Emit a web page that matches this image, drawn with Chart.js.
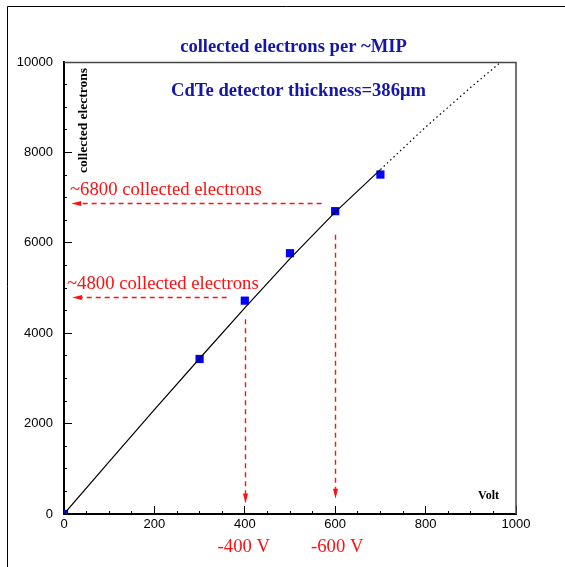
<!DOCTYPE html>
<html>
<head>
<meta charset="utf-8">
<script src="https://cdn.jsdelivr.net/npm/chart.js@4.4.1/dist/chart.umd.min.js"></script>
<style>
html, body { margin: 0; padding: 0; background: #fff; }
canvas { display: block; }
</style>
</head>
<body>
<canvas id="grafico" width="565" height="567"></canvas>
<script>
// Puntos medidos: tensión (V) y electrones recogidos
const voltios = [0, 300, 400, 500, 600, 700];
const electrones = [0, 3430, 4720, 5770, 6700, 7510];

// Curva de ajuste (continua hasta 700 V, punteada después)
const ajusteVoltios = [0, 100, 200, 300, 400, 500, 600, 700, 800, 900, 1000];
const ajusteElectrones = [0, 1160, 2310, 3440, 4560, 5650, 6680, 7620, 8560, 9440, 10280];
const finTramoSolido = 700;

// Flechas horizontales (nivel de electrones, desde V, hasta V)
const flechaNivel = [6880, 4790];
const flechaDesde = [570, 360];
const flechaHasta = [16, 18];
const flechaTexto = ['~6800 collected electrons', '~4800 collected electrons'];

// Flechas verticales (tensión, desde electrones, hasta electrones)
const tensionMarcada = [400, 600];
const tensionDesde = [4310, 6180];
const tensionHasta = [230, 340];
const tensionTexto = ['-400 V', '-600 V'];

const rojo = '#ff1010';
const azulTitulo = '#1616a4';
const serif = '"Liberation Serif", "Times New Roman", serif';
const sans = '"Liberation Sans", Arial, sans-serif';

function punta(ctx, x, y, dx, dy) {
  // triángulo estrecho apuntando en la dirección (dx, dy)
  const largo = 10, ancho = 2.5;
  const px = -dy, py = dx;
  ctx.beginPath();
  ctx.moveTo(x, y);
  ctx.lineTo(x - dx * largo + px * ancho, y - dy * largo + py * ancho);
  ctx.lineTo(x - dx * largo - px * ancho, y - dy * largo - py * ancho);
  ctx.closePath();
  ctx.fill();
}

const decoracion = {
  id: 'decoracion',
  afterDatasetsDraw(chart) {
    const ctx = chart.ctx;
    const sx = chart.scales.x, sy = chart.scales.y;
    ctx.save();
    ctx.strokeStyle = rojo;
    ctx.fillStyle = rojo;
    ctx.lineWidth = 1.4;
    ctx.setLineDash([5, 4]);
    for (let i = 0; i < flechaNivel.length; i++) {
      const y = Math.round(sy.getPixelForValue(flechaNivel[i])) + 0.5;
      const x0 = sx.getPixelForValue(flechaDesde[i]);
      const x1 = sx.getPixelForValue(flechaHasta[i]);
      ctx.beginPath();
      ctx.moveTo(x0, y);
      ctx.lineTo(x1 + 8, y);
      ctx.stroke();
    }
    for (let i = 0; i < tensionMarcada.length; i++) {
      const x = Math.round(sx.getPixelForValue(tensionMarcada[i])) + 0.5;
      const y0 = sy.getPixelForValue(tensionDesde[i]);
      const y1 = sy.getPixelForValue(tensionHasta[i]);
      ctx.beginPath();
      ctx.moveTo(x, y0);
      ctx.lineTo(x, y1 - 8);
      ctx.stroke();
    }
    ctx.setLineDash([]);
    for (let i = 0; i < flechaNivel.length; i++) {
      const y = Math.round(sy.getPixelForValue(flechaNivel[i])) + 0.5;
      punta(ctx, sx.getPixelForValue(flechaHasta[i]), y, -1, 0);
    }
    for (let i = 0; i < tensionMarcada.length; i++) {
      const x = Math.round(sx.getPixelForValue(tensionMarcada[i])) + 0.5;
      punta(ctx, x, sy.getPixelForValue(tensionHasta[i]), 0, 1);
    }
    ctx.restore();
  },
  afterDraw(chart) {
    const ctx = chart.ctx;
    const a = chart.chartArea;
    ctx.save();
    // marco exterior
    ctx.strokeStyle = '#000';
    ctx.lineWidth = 1;
    ctx.beginPath();
    ctx.moveTo(7.5, 567);
    ctx.lineTo(7.5, 6.5);
    ctx.lineTo(565, 6.5);
    ctx.stroke();
    // bordes superior y derecho del área
    ctx.strokeStyle = '#444';
    ctx.lineWidth = 1.5;
    ctx.beginPath();
    ctx.moveTo(a.left, a.top + 0.5);
    ctx.lineTo(a.right, a.top + 0.5);
    ctx.lineTo(a.right, a.bottom);
    ctx.stroke();

    // títulos
    ctx.fillStyle = azulTitulo;
    ctx.textAlign = 'center';
    ctx.textBaseline = 'alphabetic';
    ctx.font = 'bold 18.6px ' + serif;
    ctx.fillText('collected electrons per ~MIP', 293.5, 52);
    ctx.fillText('CdTe detector thickness=386\u03bcm', 298.5, 96);

    // títulos de ejes
    ctx.fillStyle = '#000';
    ctx.font = 'bold 12px ' + serif;
    ctx.textAlign = 'right';
    ctx.fillText('Volt', 499, 499);
    ctx.save();
    ctx.translate(87, 68);
    ctx.rotate(-Math.PI / 2);
    ctx.textAlign = 'right';
    ctx.font = 'bold 13.5px ' + serif;
    ctx.fillText('collected electrons', 0, 0);
    ctx.restore();

    // textos rojos
    ctx.fillStyle = rojo;
    ctx.font = '18.7px ' + serif;
    ctx.textAlign = 'left';
    ctx.fillText(flechaTexto[0], 70, 195);
    ctx.fillText(flechaTexto[1], 67, 289);
    ctx.textAlign = 'center';
    for (let i = 0; i < tensionMarcada.length; i++) {
      const x = chart.scales.x.getPixelForValue(tensionMarcada[i]);
      ctx.fillText(tensionTexto[i], x - 1 + i * 3, 552);
    }
    ctx.restore();
  }
};

function rayita(paso, esVertical) {
  // marcas menores más cortas que las mayores
  return (c) => {
    if (!c.tick || c.tick.value % paso === 0) return [];
    return esVertical ? [0, 5, 4, 100] : [4, 100];
  };
}

new Chart(document.getElementById('grafico'), {
  type: 'scatter',
  data: {
    datasets: [{
      type: 'line',
      data: ajusteVoltios.map((v, i) => ({ x: v, y: ajusteElectrones[i] })),
      borderColor: '#000',
      borderWidth: 1.2,
      pointRadius: 0,
      tension: 0,
      segment: {
        borderDash: (c) => c.p0.parsed.x >= finTramoSolido ? [1.5, 3] : undefined
      }
    }, {
      data: voltios.map((v, i) => ({ x: v, y: electrones[i] })),
      pointStyle: 'rect',
      pointRadius: 5.8,
      pointBorderWidth: 0,
      backgroundColor: '#0000ff',
      borderColor: '#0000ff'
    }]
  },
  options: {
    responsive: false,
    animation: false,
    events: [],
    layout: { padding: { top: 62, right: 49, bottom: 0, left: 0 } },
    plugins: { legend: { display: false }, tooltip: { enabled: false } },
    scales: {
      x: {
        type: 'linear',
        min: 0,
        max: 1000,
        afterFit: (s) => { s.height = 53; },
        border: { display: true, color: '#000', width: 2 },
        grid: {
          drawOnChartArea: false,
          drawTicks: true,
          tickLength: -8,
          tickColor: '#000',
          tickWidth: 1,
          tickBorderDash: rayita(200, false)
        },
        ticks: {
          stepSize: 50,
          autoSkip: false,
          maxRotation: 0,
          padding: 11,
          color: '#000',
          font: { family: sans, size: 13 },
          callback: (v) => v % 200 === 0 ? v : ''
        }
      },
      y: {
        type: 'linear',
        min: 0,
        max: 10000,
        afterFit: (s) => { s.width = 64; },
        border: { display: true, color: '#000', width: 2 },
        grid: {
          drawOnChartArea: false,
          drawTicks: true,
          tickLength: -8,
          tickColor: '#000',
          tickWidth: 1,
          tickBorderDash: rayita(2000, true)
        },
        ticks: {
          stepSize: 500,
          autoSkip: false,
          padding: 19,
          color: '#000',
          font: { family: sans, size: 13 },
          callback: (v) => v % 2000 === 0 ? v : ''
        }
      }
    }
  },
  plugins: [decoracion]
});
</script>
</body>
</html>
